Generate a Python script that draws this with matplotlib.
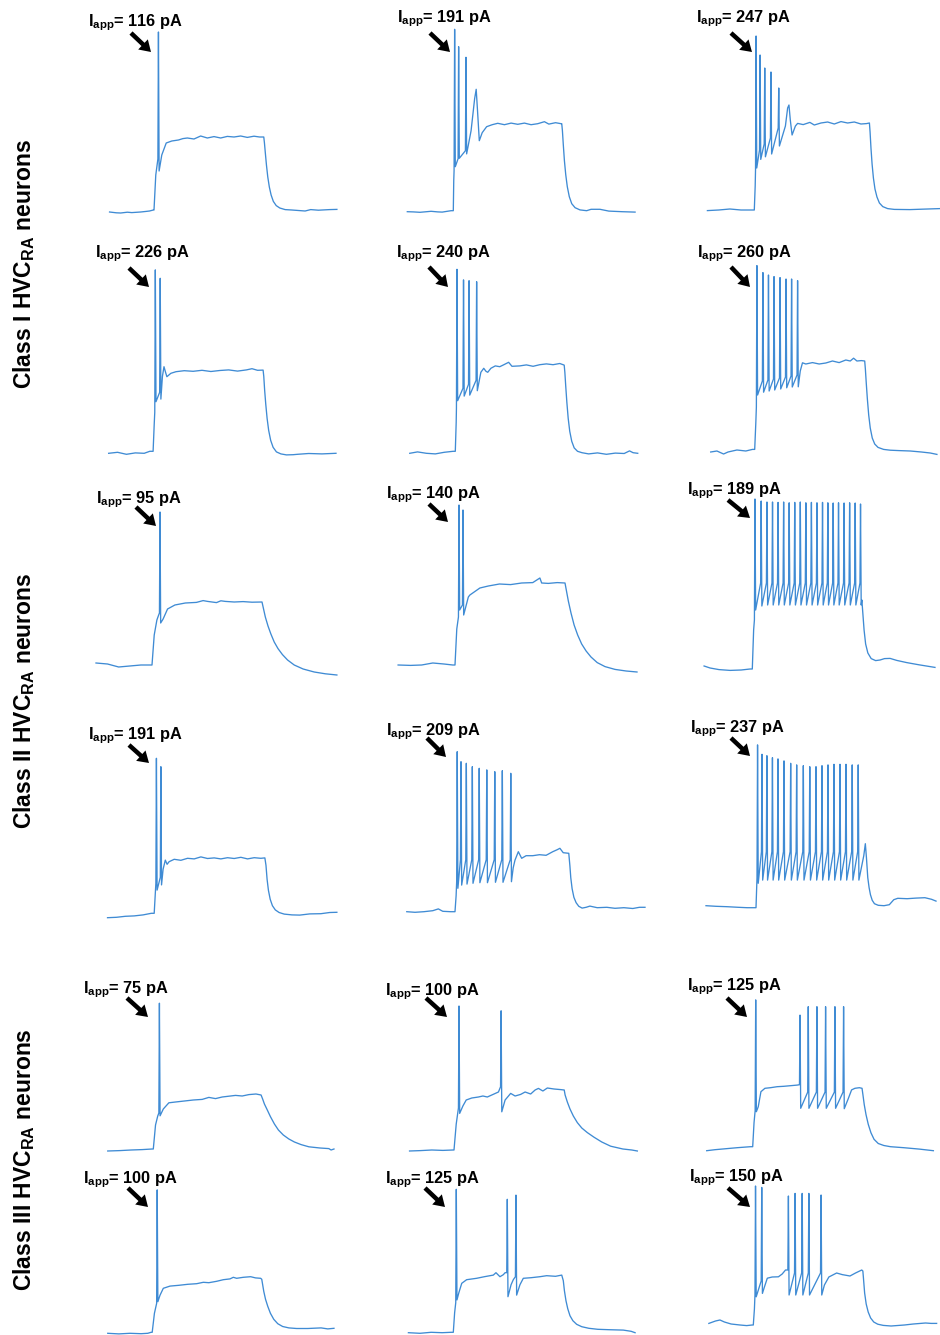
import numpy as np
import matplotlib
matplotlib.use("Agg")
import matplotlib.pyplot as plt
from matplotlib import font_manager as fm

# ---- data ------------------------------------------------------------------
# every trace = knots (ms, mV) + spikes (time ms, threshold mV, peak mV, trough mV)
# current step is on from 0 ms to ~500 ms

I_APP = [[116, 191, 247], [226, 240, 260], [95, 140, 189],
         [191, 209, 237], [75, 100, 125], [100, 125, 150]]

ROW_TITLES = [r"Class I HVC$_{\mathrm{RA}}$ neurons",
              r"Class II HVC$_{\mathrm{RA}}$ neurons",
              r"Class III HVC$_{\mathrm{RA}}$ neurons"]

# Class I, 116 pA
r1c1_spk = [(20, -44, 19.5, -50)]
r1c1_v = [(-200, -70.5), (-170, -70.9), (-150, -71), (-120, -70.6), (-100, -70.8), (-60, -70.5),
          (-35, -70.2), (-20, -70), (-3, -69.5), (0, -69.5), (8, -52), (35, -42), (55, -36),
          (80, -35), (110, -34.5), (130, -33.8), (150, -33.5), (180, -34), (210, -32.5),
          (240, -33.5), (270, -32.8), (300, -33.5), (330, -32.7), (360, -33), (390, -32.5),
          (420, -33.2), (450, -32.6), (475, -33), (494, -33),
          (497, -36), (501, -41), (506, -47), (512, -53), (519, -58), (527, -62), (537, -65.2),
          (550, -67.3), (566, -68.5), (590, -69.3), (620, -69.5), (680, -70), (705, -69.3),
          (740, -69.6), (790, -69.3), (823, -69.2)]

# Class I, 191 pA
r1c2_spk = [(6, -50, 20.7, -48), (24, -44, 12, -43.8), (57, -40, 6.7, -41.6)]
r1c2_v = [(-207, -70.5), (-180, -70.6), (-150, -70.8), (-100, -70.3), (-70, -70.6), (-50, -70.7),
          (-10, -70), (0, -70), (2, -55), (80, -30), (96, -14), (103, -9.3), (109, -20),
          (117, -35), (130, -31), (150, -28), (175, -27), (200, -26.3), (230, -27), (260, -26.2),
          (290, -26.8), (320, -26.2), (350, -27), (380, -26.5), (410, -25.5), (430, -26.7),
          (460, -26), (485, -26.5), (488, -26.5),
          (491, -30), (495, -37), (500, -45), (506, -52), (513, -58), (522, -63), (533, -66.5),
          (548, -68.5), (570, -69.6), (600, -70), (620, -69.3), (660, -69.3), (700, -70.2),
          (760, -70.5), (818, -70.7)]

# Class I, 247 pA
r1c3_spk = [(8, -50, 17, -49), (26, -40, 7.5, -44.7), (47, -37, 1, -43.4),
            (75, -34, -1, -42), (110, -29, -9, -38)]
r1c3_v = [(-211, -70.3), (-160, -70), (-110, -69.5), (-60, -70), (-20, -70), (0, -70), (4, -58),
          (140, -28), (150, -19), (156, -17.5), (162, -25), (170, -32.5), (185, -28),
          (195, -26.7), (220, -27.3), (250, -26.2), (270, -27.5), (300, -26.5), (330, -26),
          (360, -27), (390, -25.8), (420, -26.5), (450, -26), (480, -27), (505, -26.8),
          (518, -26.5),
          (521, -31), (525, -39), (530, -47), (536, -54), (543, -59.5), (552, -63.5),
          (563, -66.5), (578, -68.3), (600, -69.3), (630, -69.7), (700, -69.8), (780, -69.5),
          (835, -69.3)]

# Class I, 226 pA
r2c1_spk = [(10, -50, 21.2, -44.7), (32, -40, 17, -43.4)]
r2c1_v = [(-200, -70.5), (-160, -70), (-120, -71), (-80, -70.3), (-40, -70.5), (-15, -69.5),
          (0, -69.5), (5, -56), (42, -32), (49, -27.2), (56, -30), (62, -32.2), (80, -30.5),
          (103, -29.7), (140, -29.2), (180, -29.5), (220, -29), (260, -29.6), (300, -29.1),
          (340, -28.8), (380, -29.4), (420, -28.8), (445, -28.2), (470, -29), (495, -28.9),
          (498, -32), (502, -39), (507, -46), (513, -53), (520, -59), (529, -64), (540, -67.5),
          (555, -69.8), (575, -70.8), (600, -71.3), (630, -71.2), (650, -71), (700, -70.6),
          (760, -70.8), (823, -70.5)]

# Class I, 240 pA
r2c2_spk = [(7.6, -48, 21.5, -44.2), (37, -38, 16.2, -41.9), (62, -36, 15.8, -41.4),
            (96, -34, 15.3, -39.2)]
r2c2_v = [(-205, -70.5), (-170, -69.8), (-130, -70.5), (-90, -70.8), (-50, -70), (-10, -69.5),
          (0, -69.5), (4, -55), (115, -30), (128, -28), (138, -29.5), (146, -30), (160, -28),
          (180, -26.8), (200, -27.2), (215, -26.4), (240, -25), (255, -27), (290, -26.8),
          (320, -26.3), (350, -27), (380, -26.2), (410, -25.8), (440, -26.2), (470, -25.6),
          (490, -26.4),
          (493, -30), (497, -37), (502, -45), (508, -53), (515, -59.5), (524, -64.5),
          (535, -67.8), (550, -69.5), (570, -70.2), (600, -70.8), (640, -70.3), (680, -71),
          (720, -70.4), (760, -70.6), (784, -69.3), (800, -70.2), (821, -70.5)]

# Class I, 260 pA
r2c3_spk = [(10, -48, 22.7, -42), (37, -35, 19.2, -40.6), (62, -34.5, 18, -40),
            (87, -34, 17.2, -39.5), (114, -33.5, 16.7, -39), (141, -33, 16, -38.4),
            (166, -32.5, 16, -38), (193, -32, 15.2, -37.9)]
r2c3_v = [(-198, -70.5), (-170, -70), (-140, -71.5), (-120, -70.5), (-80, -69.5), (-40, -70),
          (-10, -69.2), (0, -69.2), (5, -56), (205, -30), (215, -25.9), (230, -26.5),
          (260, -25.8), (290, -26.5), (320, -26), (350, -25), (380, -25.8), (410, -24.5),
          (430, -25), (445, -23.6), (460, -25), (480, -24.8), (495, -25),
          (498, -29), (502, -36), (507, -44), (513, -52), (520, -58.5), (529, -63.5),
          (540, -66.5), (555, -68.2), (580, -69.2), (610, -69.6), (650, -69.8), (700, -70),
          (750, -70.5), (790, -71), (820, -71.7)]

# Class II, 95 pA
r3c1_spk = [(36, -44, 6.5, -49)]
r3c1_v = [(-252, -69), (-200, -69.5), (-150, -71), (-100, -70.5), (-50, -70), (-10, -70),
          (0, -70), (10, -55), (22, -47.5), (30, -45), (50, -47), (70, -42), (103, -40),
          (150, -39), (200, -38.7), (230, -37.8), (250, -38.2), (290, -38.8), (310, -37.9),
          (330, -38.2), (370, -38.5), (410, -38.3), (450, -38.6), (495, -38.5),
          (500, -41), (510, -46), (522, -50.5), (535, -54.5), (550, -58.5), (567, -61.8),
          (587, -64.8), (610, -67.5), (640, -70), (680, -72), (730, -73.5), (780, -74.4),
          (832, -75)]

# Class II, 140 pA
r3c2_spk = [(18, -46, 10, -42.5), (36, -40, 7.5, -45)]
r3c2_v = [(-256, -70), (-200, -70.2), (-150, -70), (-100, -69), (-50, -69.5), (-10, -70),
          (0, -70), (8, -52), (60, -36), (67, -35), (112, -31.5), (150, -30.5), (200, -29.5),
          (250, -29.8), (300, -29), (350, -28.8), (382, -26.5), (390, -29), (420, -29.2),
          (460, -28.8), (495, -29),
          (500, -32), (510, -38), (522, -44), (536, -50), (552, -55), (570, -59.5),
          (590, -63), (612, -66), (640, -68.8), (675, -70.8), (720, -72.2), (770, -73),
          (819, -73.5)]

# Class II, 189 pA
r3c3_t = [12, 40, 66, 91, 116, 141, 166, 191, 216, 241, 266, 291, 316, 340, 364, 388, 413,
          438, 463, 487]
r3c3_peak = [15.5, 14.5, 14, 14, 13.8, 14, 13.6, 13.8, 14, 13.6, 13.8, 13.6, 13.8, 13.6, 13.5,
             13.6, 13.5, 13.6, 13.5, 13]
r3c3_thr = [-45] + [-26.5] * 19
r3c3_trough = [-40, -38] + [-37.5] * 18
r3c3_spk = list(zip(r3c3_t, r3c3_thr, r3c3_peak, r3c3_trough))
r3c3_v = [(-217, -68), (-190, -69), (-150, -69.8), (-100, -70.2), (-50, -70), (-10, -69.5),
          (0, -69.5), (6, -50), (493, -35), (497, -41), (503, -50), (510, -57), (520, -61.5),
          (535, -64.3), (555, -65.3), (575, -65), (595, -64.3), (620, -64.2), (650, -65.2),
          (695, -66.3), (750, -67.4), (822, -68.7)]

# Class II, 191 pA
r4c1_spk = [(10, -55, 7.5, -58.4), (30, -52, 3.3, -55.8)]
r4c1_v = [(-210, -72.2), (-170, -72), (-130, -71.5), (-90, -71.3), (-50, -70.8), (-13, -70),
          (0, -70), (5, -60), (40, -48), (50, -43.4), (58, -45.5), (67, -44.2), (90, -43),
          (120, -43.5), (150, -42.5), (180, -42.8), (210, -41.8), (240, -42.6), (270, -42.3),
          (300, -42.8), (330, -42.2), (360, -42.6), (390, -42), (420, -42.8), (450, -42.2),
          (480, -42.5), (498, -42.3),
          (503, -46), (508, -53), (514, -58.5), (522, -63), (532, -66.2), (545, -68.3),
          (562, -69.6), (585, -70.4), (620, -70.8), (655, -70.9), (700, -70.3), (750, -70.2),
          (790, -69.6), (822, -69.5)]

# Class II, 209 pA
r4c2_t = [10, 27, 51, 78, 109, 143, 179, 213, 251]
r4c2_peak = [10, 5, 4.2, 2.5, 1.7, 0.9, 0, 0.5, -0.8]
r4c2_thr = [-55, -44, -44, -44, -44, -44, -44, -44, -44]
r4c2_trough = [-58.3, -56.7, -56.2, -55.8, -55.5, -55.5, -55.3, -55.3, -55]
r4c2_spk = list(zip(r4c2_t, r4c2_thr, r4c2_peak, r4c2_trough))
r4c2_v = [(-217, -70), (-180, -70.3), (-140, -70), (-100, -69.5), (-75, -68.6), (-55, -69.8),
          (-20, -70), (0, -70), (5, -62), (262, -48), (270, -44.2), (285, -40), (300, -43.3),
          (320, -42), (350, -42), (380, -41.5), (410, -41.8), (440, -40), (460, -39),
          (472, -38.3), (487, -40.5), (512, -40.8),
          (517, -47), (521, -53), (527, -58.5), (535, -62.8), (545, -65.5), (557, -67.3),
          (572, -68.2), (590, -67.8), (607, -67.2), (640, -68), (683, -67.8), (720, -68.3),
          (760, -68), (800, -68.4), (830, -67.8), (855, -67.8)]

# Class II, 237 pA
r4c3_t = [7, 27, 49, 74, 99, 126, 156, 183, 213, 242, 270, 297, 324, 351, 378, 405, 433, 460]
r4c3_peak = [11.4, 6.7, 6, 5, 4.4, 3.4, 2.2, 1.4, 1, 0.5, 0.5, 1, 1.4, 1.7, 1.7, 1.7, 1.4, 1.4]
r4c3_thr = [-55] + [-42] * 17
r4c3_trough = [-57.8] + [-56.2] * 17
r4c3_spk = list(zip(r4c3_t, r4c3_thr, r4c3_peak, r4c3_trough))
r4c3_v = [(-225, -69), (-180, -69.3), (-130, -69.5), (-80, -69.8), (-40, -70), (-5, -70),
          (0, -70), (3, -60), (485, -44), (492, -38), (497, -45), (503, -55), (509, -60),
          (515, -63.5), (523, -66.3), (533, -68), (550, -68.8), (576, -69), (600, -68.5),
          (620, -66), (638, -65.3), (680, -65.5), (720, -65.2), (760, -65), (790, -65.8),
          (810, -66.7)]

# Class III, 75 pA
r5c1_spk = [(27.5, -52, 2.9, -53.4)]
r5c1_v = [(-205, -71), (-150, -70.8), (-100, -70.5), (-50, -70.3), (-5, -70), (0, -70),
          (10, -58), (20, -53.5), (45, -50), (70, -46.9), (100, -46.5), (140, -46),
          (180, -45.5), (220, -45.2), (250, -44.2), (280, -44.8), (310, -44), (340, -43.6),
          (370, -43.2), (400, -43.5), (430, -42.8), (462, -42.5), (485, -43),
          (492, -45), (500, -47.5), (513, -50.5), (527, -53.8), (545, -57.5), (563, -60.5),
          (585, -63), (610, -65), (635, -66.5), (665, -67.8), (700, -68.9), (750, -69.5),
          (790, -69.8), (800, -70.5), (813, -70)]

# Class III, 100 pA
r5c2_spk = [(22.5, -49, 2, -51.7), (212, -38.4, -0.4, -50.9)]
r5c2_v = [(-200, -70.5), (-150, -70.3), (-100, -70), (-50, -70.2), (-5, -70), (0, -70),
          (10, -57), (40, -48), (55, -45), (80, -44), (110, -43.5), (130, -43), (150, -43.5),
          (180, -42), (200, -41), (230, -45), (255, -41.7), (275, -43), (300, -42.2),
          (320, -41), (345, -42), (365, -40), (380, -39.2), (400, -40.5), (420, -39),
          (450, -39.5), (480, -39.8), (496, -40),
          (500, -42.5), (510, -46), (522, -49.5), (537, -53), (555, -56.3), (575, -59),
          (600, -61.3), (630, -63.6), (665, -66), (705, -68.1), (760, -69.5), (800, -70),
          (825, -70.5)]

# Class III, 125 pA
r5c3_spk = [(13.5, -52, 3.4, -52.5), (213, -39, -4.2, -50.8), (250, -42.7, 0, -50.8),
            (289, -42.7, 0, -50.8), (328, -42.7, 0, -50.8), (370, -42.7, 0, -50.8),
            (409, -42.7, 0, -51)]
r5c3_v = [(-207, -72), (-170, -71.5), (-120, -71), (-70, -70.5), (-10, -70), (0, -70),
          (6, -58), (25, -50), (37, -42.5), (55, -40.8), (80, -40.5), (110, -40), (140, -39.8),
          (170, -39.5), (200, -39.2), (430, -46), (445, -41.6), (460, -40.8), (480, -40.5),
          (492, -40.8),
          (496, -44), (502, -49), (510, -54), (520, -58.8), (532, -63), (546, -66.3),
          (565, -68.4), (590, -69.4), (620, -70), (680, -70.5), (750, -71.2), (813, -72)]

# Class III, 100 pA
r6c1_spk = [(22.5, -55, 1.7, -54.2)]
r6c1_v = [(-200, -70), (-150, -70.3), (-100, -70), (-50, -70.2), (-20, -70), (-5, -69.5),
          (0, -69.5), (10, -60), (35, -51), (50, -47.5), (80, -46.4), (120, -46), (160, -45.5),
          (200, -45.2), (230, -44.5), (255, -44.7), (290, -44), (320, -43.2), (350, -42.8),
          (365, -42), (380, -42.5), (410, -42), (443, -41.7), (465, -42.3), (488, -42.5),
          (493, -43),
          (496, -45), (502, -49), (510, -53), (520, -56.5), (532, -60), (547, -63),
          (565, -65.2), (587, -66.6), (615, -67.3), (650, -67.6), (700, -67.6), (760, -67.3),
          (790, -67.8), (818, -67.5)]

# Class III, 125 pA
r6c2_spk = [(13.5, -55, 1.7, -53.6), (243, -40, -3.3, -52), (282, -42, -1.2, -51.2)]
r6c2_v = [(-202, -70), (-150, -70.3), (-100, -69.8), (-50, -70), (-10, -69.8), (0, -69.8),
          (6, -60), (25, -50), (38, -45.3), (60, -43.5), (105, -42.8), (140, -42), (180, -41.2),
          (192, -40), (210, -42), (225, -41), (233, -40), (260, -46), (270, -43.5),
          (300, -46), (315, -42.8), (350, -42.5), (390, -42), (420, -41.5), (460, -41.8),
          (488, -41.2),
          (495, -44), (500, -49), (507, -54), (515, -58), (525, -61.5), (538, -64),
          (555, -65.8), (578, -67), (610, -67.8), (650, -68.3), (700, -68.5), (765, -68.7),
          (800, -69.3), (818, -70)]

# Class III, 150 pA
r6c3_spk = [(10, -55, -0.5, -55.9), (38, -48, -1.2, -54.2), (158, -42.5, -5.5, -55),
            (188, -44, -4.2, -55), (220, -44, -4.2, -55), (250, -44, -4.2, -55),
            (305, -44, -5, -55)]
r6c3_v = [(-200, -69.2), (-170, -68), (-150, -67.5), (-130, -68.5), (-100, -69.5), (-60, -70),
          (-30, -70.3), (-5, -70), (0, -70), (5, -62), (50, -51), (63, -46.6), (85, -46),
          (113, -45.9), (130, -44.5), (145, -42.5), (320, -50), (340, -46), (375, -44),
          (400, -44.8), (435, -45.5), (460, -44), (488, -42.5), (493, -43),
          (496, -47), (501, -54), (508, -59.5), (517, -63.5), (528, -66.5), (542, -68.5),
          (560, -69.6), (585, -70.2), (620, -70.5), (680, -70), (720, -69.5), (775, -69),
          (800, -69.2), (825, -69.2)]

TRACES = [[(r1c1_v, r1c1_spk), (r1c2_v, r1c2_spk), (r1c3_v, r1c3_spk)],
          [(r2c1_v, r2c1_spk), (r2c2_v, r2c2_spk), (r2c3_v, r2c3_spk)],
          [(r3c1_v, r3c1_spk), (r3c2_v, r3c2_spk), (r3c3_v, r3c3_spk)],
          [(r4c1_v, r4c1_spk), (r4c2_v, r4c2_spk), (r4c3_v, r4c3_spk)],
          [(r5c1_v, r5c1_spk), (r5c2_v, r5c2_spk), (r5c3_v, r5c3_spk)],
          [(r6c1_v, r6c1_spk), (r6c2_v, r6c2_spk), (r6c3_v, r6c3_spk)]]

# ---- layout (pixels of the 940x1335 image) ---------------------------------
W, H = 940, 1335
MS_PER_PX, MV_PER_PX = 4.5, 0.5
STEP_PX = [[154, 453.3, 754.3], [153.1, 455.3, 754.7], [152, 455, 752.3],
           [154.2, 455, 756], [153.3, 454, 752.7], [152.2, 453.3, 753.3]]
BASE_PX = [[211, 210.7, 210], [452.3, 452.3, 451], [665, 665, 670],
           [913.3, 911.7, 907.7], [1149, 1150, 1146.7], [1333.3, 1332.7, 1325]]
LABEL_XY = [[(88, 26), (397, 22), (696, 22)], [(95, 257), (396, 257), (697, 257)],
            [(96, 503), (386, 498), (687, 494)], [(88, 739), (386, 735), (690, 732)],
            [(83, 993), (385, 995), (687, 990)], [(83, 1183), (385, 1183), (689, 1181)]]
ARROWS = [[(131, 33, 151, 52), (430, 33, 450, 52), (731, 33, 752, 52)],
          [(129, 268, 149, 287), (429, 267, 448, 287), (731, 267, 750, 287)],
          [(136, 507, 156, 526), (429, 504, 448, 522), (728, 500, 750, 518)],
          [(129, 745, 149, 763), (427, 738, 446, 757), (731, 738, 750, 756)],
          [(127, 998, 148, 1017), (426, 998, 447, 1017), (727, 998, 747, 1017)],
          [(128, 1188, 148, 1207), (425, 1188, 445, 1207), (728, 1188, 750, 1207)]]
TITLE_Y = [264, 701, 1160]

TRACE_COLOR = "#3f8bd4"
T_LIM, V_LIM = (-300, 900), (-80, 30)


def has_font(name):
    try:
        fm.findfont(fm.FontProperties(family=name), fallback_to_default=False)
        return True
    except ValueError:
        return False


NARROW = has_font("Liberation Sans Narrow")
FONT = "Liberation Sans Narrow" if NARROW else "Liberation Sans"
plt.rcParams["mathtext.fontset"] = "custom"
for key in ("rm", "it", "bf", "sf"):
    plt.rcParams["mathtext." + key] = FONT + ":bold"


def build(knots, spikes):
    pts = list(knots)
    for t, thr, peak, trough in spikes:
        pts += [(t - 2.5, thr), (t, peak), (t + 3, trough)]
    pts.sort(key=lambda p: p[0])
    t, v = zip(*pts)
    return np.array(t), np.array(v)


fig = plt.figure(figsize=(W / 100, H / 100), dpi=100)

for i, row in enumerate(TRACES):
    for j, (knots, spikes) in enumerate(row):
        left = STEP_PX[i][j] - (0 - T_LIM[0]) / MS_PER_PX
        top = BASE_PX[i][j] - (V_LIM[1] + 70) / MV_PER_PX
        wpx = (T_LIM[1] - T_LIM[0]) / MS_PER_PX
        hpx = (V_LIM[1] - V_LIM[0]) / MV_PER_PX
        ax = fig.add_axes([left / W, 1 - (top + hpx) / H, wpx / W, hpx / H])
        ax.patch.set_alpha(0)
        t, v = build(knots, spikes)
        ax.plot(t, v, color=TRACE_COLOR, lw=0.95, solid_joinstyle="round")
        ax.set_xlim(*T_LIM)
        ax.set_ylim(*V_LIM)
        ax.axis("off")

ov = fig.add_axes([0, 0, 1, 1])
ov.patch.set_alpha(0)
ov.set_xlim(0, W)
ov.set_ylim(H, 0)
ov.axis("off")

fs_lab = 13.5 if NARROW else 11.8
fs_title = 20 if NARROW else 16.5
for i in range(6):
    for j in range(3):
        x, y = LABEL_XY[i][j]
        ov.text(x, y, r"I$_{\mathrm{app}}$= %d pA" % I_APP[i][j], ha="left", va="baseline",
                fontsize=fs_lab, fontweight="bold", family=FONT, color="black")
        x0, y0, x1, y1 = ARROWS[i][j]
        ov.arrow(x0, y0, x1 - x0, y1 - y0, width=4.5, head_width=14, head_length=11,
                 length_includes_head=True, color="black", lw=0)

for title, yc in zip(ROW_TITLES, TITLE_Y):
    ov.text(24, yc, title, rotation=90, ha="center", va="center", fontsize=fs_title,
            fontweight="bold", family=FONT, color="black")

fig.savefig("out.png", dpi=100)
